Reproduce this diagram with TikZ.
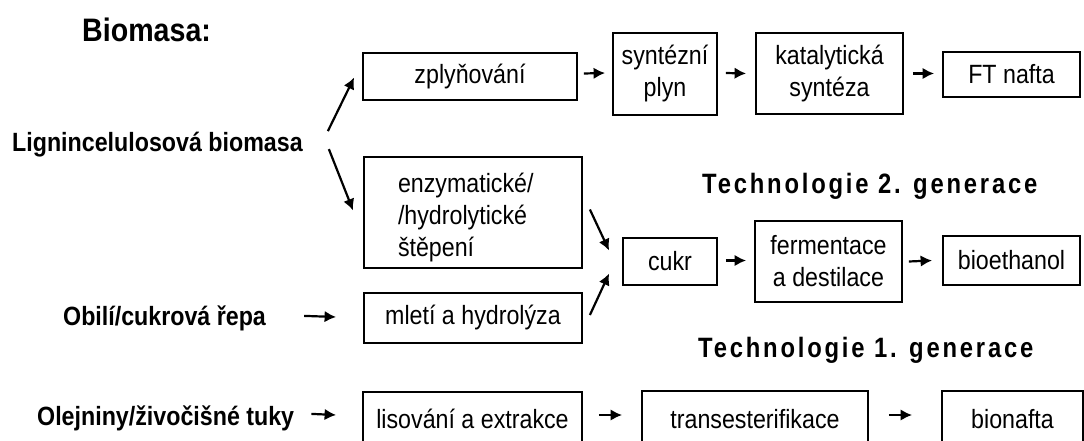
\documentclass[tikz,border=0pt]{standalone}
\usepackage{fontspec}
\setmainfont{Liberation Sans}[FakeStretch=0.88]
\newfontfamily\techfont[FakeStretch=0.85,LetterSpace=10]{Liberation Sans}
\usetikzlibrary{arrows.meta}
\newcommand\boxfont{\fontsize{26.4}{32}\selectfont}
\newcommand\lblfont{\fontsize{26.4}{30}\selectfont\bfseries}
\begin{document}
\begin{tikzpicture}[x=1pt,y=-1pt]
    \tikzset{
        box/.style={draw, line width=1.8pt, inner sep=0pt, align=center, font=\boxfont},
        lbl/.style={inner sep=0pt, anchor=base west, font=\lblfont},
        tech/.style={inner sep=0pt, anchor=base west, font=\techfont\bfseries\fontsize{28}{30}\selectfont},
        arr/.style={line width=2.2pt, -{Latex[length=11.5pt,width=11.5pt]}},}
    \useasboundingbox (0,0) rectangle (1084,441);
    % popisky vlevo
    \node[lbl, font=\fontsize{32.5}{36}\selectfont\bfseries] (biomasa) at (82,42) {Biomasa:};
    \node[lbl] (lig) at (12,152) {Lignincelulosová biomasa};
    \node[lbl] (obili) at (63,325) {Obilí/cukrová řepa};
    \node[lbl] (olej) at (37,425) {Olejniny/živočišné tuky};
    \node[tech] (tech2) at (702,193) {Technologie 2. generace};
    \node[tech] (tech1) at (698,357) {Technologie 1. generace};
    % horni rada
    \node[box, minimum width=214, minimum height=47] (zplyn) at (470,76.5) {zplyňování};
    \node[box, minimum width=104, minimum height=82] (synplyn) at (665,74) {syntézní\\plyn};
    \node[box, minimum width=147, minimum height=81] (katal) at (829.5,73.5) {katalytická\\syntéza};
    \node[box, minimum width=137, minimum height=45] (ftnafta) at (1011.5,74.5) {FT nafta};
    % stredni rada
    \node[box, minimum width=218, minimum height=111, text width=150, align=left] (enzym) at (473,212.5)
        {\rule{0pt}{30pt}enzymatické/\\/hydrolytické\\štěpení};
    \node[box, minimum width=218, minimum height=50] (mleti) at (473,318) {mletí a hydrolýza};
    \node[box, minimum width=94, minimum height=47] (cukr) at (670,261.5) {cukr};
    \node[box, minimum width=147, minimum height=81] (ferment) at (828.5,261.5) {fermentace\\a destilace};
    \node[box, minimum width=137, minimum height=49] (bioeth) at (1011.5,260.5) {bioethanol};
    % spodni rada
    \node[box, minimum width=219, minimum height=54] (lisov) at (472.5,419) {lisování a extrakce};
    \node[box, minimum width=226, minimum height=56] (transest) at (755,419) {transesterifikace};
    \node[box, minimum width=141, minimum height=56] (bionafta) at (1012.5,419) {bionafta};
    % sipky
    \draw[arr] ([shift={(25,-14)}]lig.east) -- ([shift={(-8,1)}]zplyn.west);
    \draw[arr] ([shift={(26,4)}]lig.east) -- ([shift={(-10,-2)}]enzym.west);
    \draw[arr] ([shift={(6,-3)}]zplyn.east) -- ([shift={(-7,-1)}]synplyn.west);
    \draw[arr] ([shift={(8,-1)}]synplyn.east) -- ([shift={(-9,0)}]katal.west);
    \draw[arr] ([shift={(9,0)}]katal.east) -- ([shift={(-8,-1)}]ftnafta.west);
    \draw[arr] ([shift={(7,-3)}]enzym.east) -- ([shift={(-13,-11)}]cukr.west);
    \draw[arr] ([shift={(7,-3)}]mleti.east) -- ([shift={(-13,12)}]cukr.west);
    \draw[arr] ([shift={(38,-2)}]obili.east) -- ([shift={(-27,-1)}]mleti.west);
    \draw[arr] ([shift={(8,-1)}]cukr.east) -- ([shift={(-8,-1)}]ferment.west);
    \draw[arr] ([shift={(6,0)}]ferment.east) -- ([shift={(-10,0)}]bioeth.west);
    \draw[arr] ([shift={(17,-4)}]olej.east) -- ([shift={(-26,-4)}]lisov.west);
    \draw[arr] ([shift={(16,-4)}]lisov.east) -- ([shift={(-19,-4)}]transest.west);
    \draw[arr] ([shift={(20,-4)}]transest.east) -- ([shift={(-29,-4)}]bionafta.west);
\end{tikzpicture}
\end{document}
